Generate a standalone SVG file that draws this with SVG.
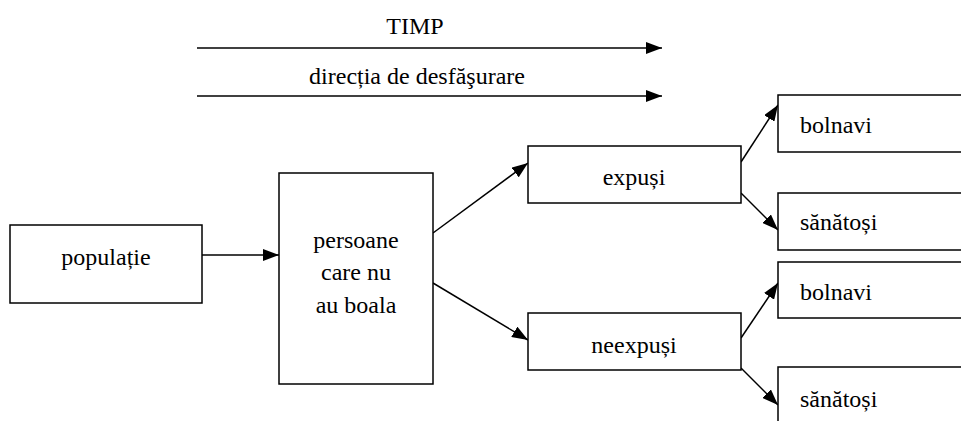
<svg xmlns="http://www.w3.org/2000/svg" width="961" height="421" viewBox="0 0 961 421">
<style>
.box{fill:#fff;stroke:#000;stroke-width:1.5}
.ln{stroke:#000;stroke-width:1.5;fill:none;marker-end:url(#ah)}
text{font:24px "Liberation Serif",serif;fill:#000}
.c{text-anchor:middle}
</style>
<defs>
<marker id="ah" viewBox="0 0 16 12" refX="16" refY="6" markerWidth="16" markerHeight="12" markerUnits="userSpaceOnUse" orient="auto">
<path d="M0,0 L16,6 L0,12 Z" fill="#000"/>
</marker>
</defs>
<rect width="961" height="421" fill="#fff"/>
<g id="timeline">
<text class="c" x="415" y="34" style="font:24px 'Liberation Serif',serif">TIMP</text>
<line class="ln" x1="197" y1="48" x2="662" y2="48"/>
<text class="c" x="417" y="84" style="font:24px 'Liberation Serif',serif">direcția de desfăşurare</text>
<line class="ln" x1="197" y1="96" x2="662" y2="96"/>
</g>
<g id="connectors">
<line class="ln" x1="202" y1="255" x2="279" y2="255"/>
<line class="ln" x1="433" y1="233" x2="528" y2="163"/>
<line class="ln" x1="433" y1="283" x2="528" y2="340"/>
<line class="ln" x1="741" y1="162" x2="778" y2="105"/>
<line class="ln" x1="741" y1="193" x2="778" y2="230"/>
<line class="ln" x1="741" y1="338" x2="778" y2="283"/>
<line class="ln" x1="741" y1="368" x2="778" y2="405"/>
</g>
<g id="populatie">
<rect class="box" x="10" y="225" width="192" height="78"/>
<text class="c" x="106" y="265" style="font:24px 'Liberation Serif',serif">populație</text>
</g>
<g id="persoane">
<rect class="box" x="279" y="173" width="154" height="211"/>
<text class="c" x="356" y="248" style="font:24px 'Liberation Serif',serif">persoane</text>
<text class="c" x="356" y="280" style="font:24px 'Liberation Serif',serif">care nu</text>
<text class="c" x="356" y="313" style="font:24px 'Liberation Serif',serif">au boala</text>
</g>
<g id="expusi">
<rect class="box" x="528" y="146" width="213" height="57"/>
<text class="c" x="634" y="185" style="font:24px 'Liberation Serif',serif">expuși</text>
</g>
<g id="neexpusi">
<rect class="box" x="528" y="313" width="213" height="57"/>
<text class="c" x="634" y="353" style="font:24px 'Liberation Serif',serif">neexpuși</text>
</g>
<g id="bolnavi1">
<rect class="box" x="778" y="95" width="200" height="57"/>
<text x="800" y="133" style="font:24px 'Liberation Serif',serif">bolnavi</text>
</g>
<g id="sanatosi1">
<rect class="box" x="778" y="193" width="200" height="57"/>
<text x="800" y="230" style="font:24px 'Liberation Serif',serif">sănătoși</text>
</g>
<g id="bolnavi2">
<rect class="box" x="778" y="262" width="200" height="56"/>
<text x="800" y="300" style="font:24px 'Liberation Serif',serif">bolnavi</text>
</g>
<g id="sanatosi2">
<rect class="box" x="778" y="367" width="200" height="70"/>
<text x="800" y="407" style="font:24px 'Liberation Serif',serif">sănătoși</text>
</g>
</svg>
